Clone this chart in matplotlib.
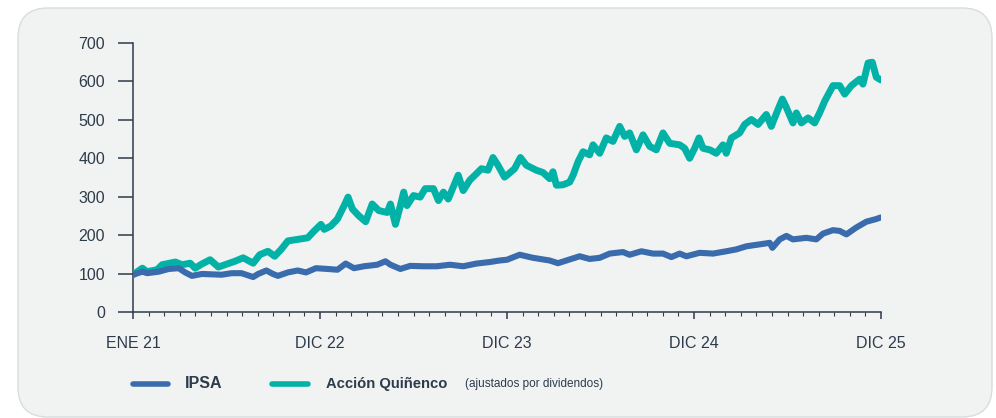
import matplotlib
matplotlib.use("Agg")
import matplotlib.pyplot as plt
from matplotlib.patches import FancyBboxPatch
from matplotlib.lines import Line2D
from matplotlib.ticker import MultipleLocator

plt.rcParams['font.family'] = ['Liberation Sans', 'DejaVu Sans']

# months since ENE 21 (axis spaced as 12 steps per label)
tick_labels = ["ENE 21", "DIC 22", "DIC 23", "DIC 24", "DIC 25"]

quinenco_month = [0.0, 0.6, 0.9, 1.55, 1.87, 2.72, 3.14, 3.67, 3.99, 4.42, 4.95, 5.48,
                  5.9, 6.54, 7.07, 7.71, 8.13, 8.66, 9.09, 9.51, 9.94, 10.57, 11.21,
                  11.63, 12.06, 12.27, 12.7, 13.12, 13.55, 13.8, 14.08, 14.5, 14.93,
                  15.35, 15.77, 16.31, 16.52, 16.84, 17.16, 17.37, 17.58, 18.0, 18.43,
                  18.75, 19.28, 19.6, 19.92, 20.23, 20.55, 20.87, 21.19, 21.61, 22.04,
                  22.36, 22.78, 23.1, 23.42, 23.84,
                  24.0, 24.49, 24.86, 25.24, 25.88, 26.31, 26.74, 26.95, 27.17, 27.59,
                  28.02, 28.24, 28.56, 28.88, 29.3, 29.52, 29.95, 30.37, 30.8, 31.23,
                  31.55, 31.87, 32.3, 32.73, 33.16, 33.58, 34.01, 34.44, 35.08, 35.4,
                  35.72, 36.04, 36.32, 36.58, 37.01, 37.43, 37.86, 38.07, 38.4, 38.93,
                  39.25, 39.68, 40.11, 40.64, 40.96, 41.39, 41.67, 41.93, 42.35, 42.57,
                  42.89, 43.32, 43.74, 44.06, 44.39, 44.92, 45.35, 45.67, 46.1, 46.63,
                  46.84, 47.17, 47.44, 47.7, 47.98]
quinenco = [97, 114, 105, 110, 123, 130, 123, 127, 114, 125, 136, 117,
            123, 132, 141, 127, 149, 158, 145, 163, 185, 189, 193,
            211, 228, 215, 224, 242, 277, 299, 268, 250, 235,
            281, 264, 259, 281, 228, 277, 312, 277, 303, 299,
            321, 321, 290, 312, 294, 325, 356, 316, 343, 360,
            373, 369, 402, 382, 351,
            356, 373, 402, 382, 369, 363, 347, 365, 330, 331,
            338, 356, 391, 417, 409, 435, 413, 453, 444, 483,
            457, 466, 422, 461, 431, 422, 466, 439, 435, 426,
            400, 426, 453, 426, 422, 413, 435, 413, 453, 466,
            488, 501, 488, 514, 483, 527, 554, 532, 492, 518,
            492, 505, 492, 518, 549, 589, 589, 567, 589, 606,
            593, 648, 650, 611, 604]

ipsa_month = [0.0, 0.6, 0.91, 1.66, 2.29, 2.93, 3.35, 3.78, 4.42, 5.05, 5.69, 6.33,
              6.96, 7.71, 8.03, 8.56, 8.98, 9.3, 9.94, 10.57, 11.1, 11.74, 12.48,
              13.12, 13.65, 14.18, 14.82, 15.67, 16.2, 16.52, 17.16, 17.79, 18.64,
              19.49, 20.34, 21.19, 22.04, 22.89, 23.52,
              24.0, 24.81, 25.67, 26.74, 27.27, 27.81, 28.66, 29.3, 29.95, 30.59,
              31.44, 31.87, 32.62, 33.37, 34.01, 34.55, 35.08, 35.51, 36.36, 37.22,
              38.07, 38.72, 39.36, 40.21, 40.86, 41.03, 41.5, 41.93, 42.35, 43.21,
              43.85, 44.28, 44.92, 45.35, 45.78, 46.42, 47.06, 47.7, 47.98]
ipsa = [97, 105, 101, 105, 112, 114, 103, 94, 99, 98, 97, 101,
        101, 91, 99, 108, 99, 94, 103, 108, 103, 114, 112,
        110, 126, 114, 119, 123, 132, 123, 112, 120, 119,
        119, 123, 119, 126, 130, 134,
        136, 149, 141, 134, 127, 134, 145, 138, 141, 152,
        156, 149, 158, 152, 152, 143, 152, 145, 154, 152,
        158, 163, 171, 176, 180, 167, 189, 198, 189, 193,
        189, 204, 213, 211, 202, 220, 235, 242, 246]

teal = '#03b2a6'
blue = '#3a6cad'
dark = '#2e3b4a'

fig = plt.figure(figsize=(9.96, 4.18), dpi=100)
fig.patch.set_facecolor('white')
W, H = 996, 418

card = FancyBboxPatch((18 / W, 1 / H), 974 / W, 409 / H,
                      boxstyle="round,pad=0,rounding_size=0.03",
                      transform=fig.transFigure, facecolor='#f1f3f3',
                      edgecolor='#d8dcdd', linewidth=1.0, mutation_aspect=W / H,
                      zorder=-5)
fig.patches.append(card)

ax = fig.add_axes([133 / W, 1 - 312 / H, 748 / W, 269 / H])
ax.set_facecolor('none')
ax.set_zorder(3)

ax.plot(quinenco_month, quinenco, color=teal, lw=5.0, solid_capstyle='round',
        solid_joinstyle='round', zorder=3)
ax.plot(ipsa_month, ipsa, color=blue, lw=4.4, solid_capstyle='round',
        solid_joinstyle='round', zorder=4)

ax.set_xlim(0, 48)
ax.set_ylim(0, 700)
ax.set_yticks(range(0, 701, 100))
ax.set_xticks([0, 12, 24, 36, 48])
ax.set_xticklabels(tick_labels)
ax.xaxis.set_minor_locator(MultipleLocator(1))

for s in ['top', 'right']:
    ax.spines[s].set_visible(False)
for s in ['left', 'bottom']:
    ax.spines[s].set_color(dark)
    ax.spines[s].set_linewidth(1.1)

ax.tick_params(axis='y', length=11, width=1.1, color=dark, pad=9,
               labelsize=11.5, labelcolor=dark)
ax.tick_params(axis='x', which='major', length=5, width=1.1, color=dark, pad=12,
               labelsize=11.5, labelcolor=dark)
ax.tick_params(axis='x', which='minor', length=3, width=0.8, color=dark)

# legend
ly = 1 - 384 / H
fig.add_artist(Line2D([133 / W, 168 / W], [ly, ly], color=blue, lw=4,
                      solid_capstyle='round', transform=fig.transFigure))
fig.text(185 / W, ly, "IPSA", fontsize=11.5, fontweight='bold', color=dark,
         va='center', ha='left')
fig.add_artist(Line2D([272 / W, 308 / W], [ly, ly], color=teal, lw=4,
                      solid_capstyle='round', transform=fig.transFigure))
fig.text(326 / W, ly, "Acción Quiñenco", fontsize=10.6, fontweight='bold',
         color=dark, va='center', ha='left')
fig.text(465 / W, ly, "(ajustados por dividendos)", fontsize=8.5, color=dark,
         va='center', ha='left')

fig.savefig('out.png', dpi=100)
